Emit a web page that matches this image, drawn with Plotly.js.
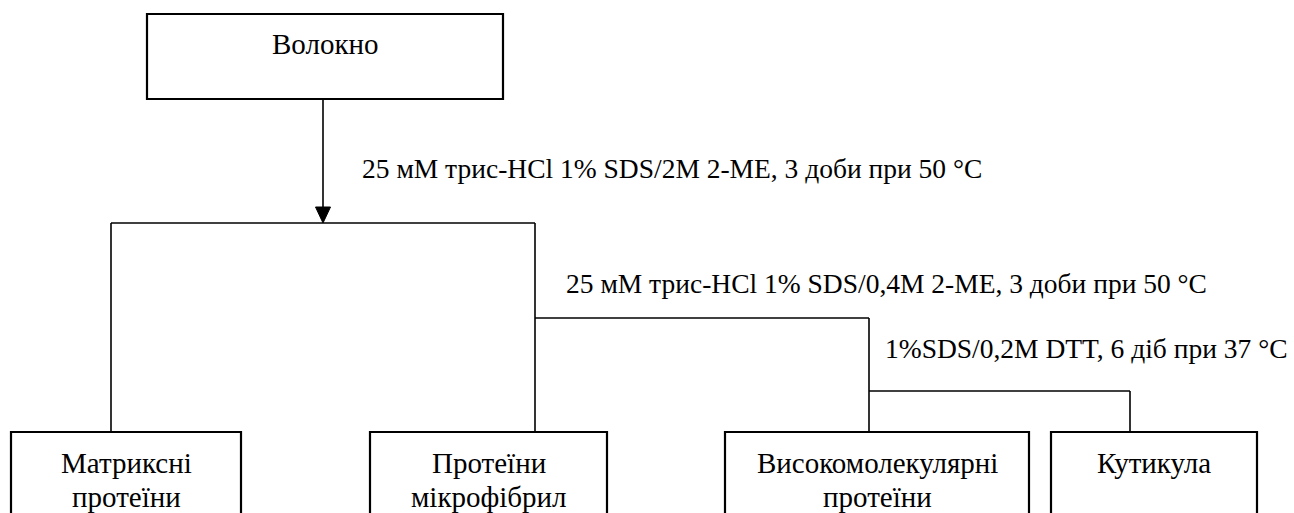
<!DOCTYPE html>
<html>
<head>
<meta charset="utf-8">
<script src="https://cdn.plot.ly/plotly-3.0.1.min.js"></script>
<style>
  html, body { margin: 0; padding: 0; background: #fff; }
  #chart { width: 1294px; height: 513px; }
</style>
</head>
<body>
<div id="chart"></div>
<script>
// ---- content (text of the scheme) ----
const rootLabel = ["Волокно"];
const leafLabels = [
  ["Матриксні", "протеїни"],
  ["Протеїни", "мікрофібрил"],
  ["Високомолекулярні", "протеїни"],
  ["Кутикула"]
];
const stepLabels = [
  "25 мМ трис-HCl 1% SDS/2M 2-ME, 3 доби при 50 °C",
  "25 мМ трис-HCl 1% SDS/0,4M 2-ME, 3 доби при 50 °C",
  "1%SDS/0,2M DTT, 6 діб при 37 °C"
];

// ---- layout geometry (drawing coordinates, y grows downward) ----
const rootBox = {x0: 147, x1: 503, y0: 14, y1: 99, ty: 44};
const leafBoxes = [
  {x0: 11,   x1: 241,  link: 111},
  {x0: 370,  x1: 607,  link: 535},
  {x0: 725,  x1: 1029, link: 869},
  {x0: 1051, x1: 1257, link: 1130}
];
const leafTop = 432, leafBottom = 540;
const lineY = [463, 497];
const stepPos = [
  {x: 362, y: 168},
  {x: 566, y: 283},
  {x: 885, y: 348}
];
const arrowX = 323, splitY1 = 223, splitY2 = 318, splitY3 = 391;

const boxFont = {family: "Liberation Serif", size: 29, color: "#000"};
const stepFont = {family: "Liberation Serif", size: 27.5, color: "#000"};
const boxLine = {color: "#000", width: 2.2};
const conLine = {color: "#000", width: 1.6};

const shapes = [];
const annotations = [];

// root box
shapes.push({type: "rect", xref: "x", yref: "y", x0: rootBox.x0, x1: rootBox.x1, y0: rootBox.y0, y1: rootBox.y1, line: boxLine, fillcolor: "rgba(0,0,0,0)"});
annotations.push({xref: "x", yref: "y", x: (rootBox.x0 + rootBox.x1) / 2, y: rootBox.ty, text: rootLabel[0], showarrow: false, font: boxFont, xanchor: "center", yanchor: "middle"});

// arrow from root
shapes.push({type: "line", xref: "x", yref: "y", x0: arrowX, x1: arrowX, y0: rootBox.y1, y1: splitY1 - 14, line: conLine});
shapes.push({type: "path", xref: "x", yref: "y",
  path: `M ${arrowX - 7.5} ${splitY1 - 16} L ${arrowX + 7.5} ${splitY1 - 16} L ${arrowX} ${splitY1} Z`,
  fillcolor: "#000", line: {color: "#000", width: 1}});

// connectors
const seg = (x0, y0, x1, y1) => shapes.push({type: "line", xref: "x", yref: "y", x0, y0, x1, y1, line: conLine});
seg(leafBoxes[0].link, splitY1, leafBoxes[1].link, splitY1);
seg(leafBoxes[0].link, splitY1, leafBoxes[0].link, leafTop);
seg(leafBoxes[1].link, splitY1, leafBoxes[1].link, leafTop);
seg(leafBoxes[1].link, splitY2, leafBoxes[2].link, splitY2);
seg(leafBoxes[2].link, splitY2, leafBoxes[2].link, leafTop);
seg(leafBoxes[2].link, splitY3, leafBoxes[3].link, splitY3);
seg(leafBoxes[3].link, splitY3, leafBoxes[3].link, leafTop);

// leaf boxes and their labels
leafBoxes.forEach((b, i) => {
  shapes.push({type: "rect", xref: "x", yref: "y", x0: b.x0, x1: b.x1, y0: leafTop, y1: leafBottom, line: boxLine, fillcolor: "rgba(0,0,0,0)"});
  leafLabels[i].forEach((t, j) => {
    annotations.push({xref: "x", yref: "y", x: (b.x0 + b.x1) / 2, y: lineY[j], text: t, showarrow: false, font: boxFont, xanchor: "center", yanchor: "middle"});
  });
});

// step labels
stepLabels.forEach((t, i) => {
  annotations.push({xref: "x", yref: "y", x: stepPos[i].x, y: stepPos[i].y, text: t, showarrow: false, font: stepFont, xanchor: "left", yanchor: "middle", xshift: -2});
});

const layout = {
  width: 1294, height: 513,
  margin: {l: 0, r: 0, t: 0, b: 0, pad: 0},
  paper_bgcolor: "#fff", plot_bgcolor: "#fff",
  showlegend: false,
  xaxis: {range: [0, 1294], visible: false, fixedrange: true},
  yaxis: {range: [513, 0], visible: false, fixedrange: true},
  shapes: shapes,
  annotations: annotations
};

Plotly.newPlot("chart", [], layout, {staticPlot: true, displayModeBar: false});
</script>
</body>
</html>
